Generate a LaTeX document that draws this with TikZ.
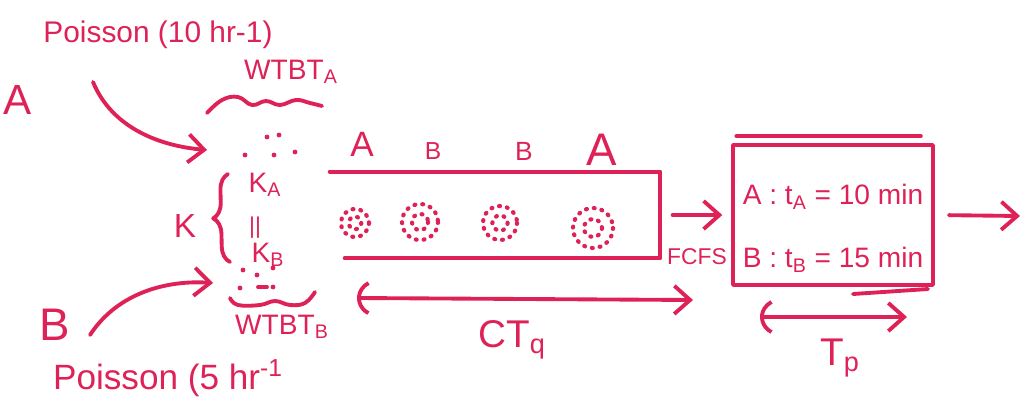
\documentclass[tikz,border=0pt]{standalone}
\usepackage{fontspec}
\setmainfont{Liberation Sans}
\usetikzlibrary{arrows.meta,decorations.pathreplacing}
\definecolor{marker}{RGB}{222,34,88}
\tikzset{
  ink/.style={draw=marker, line width=2.2pt, line cap=round, line join=round},
  inktext/.style={text=marker, inner sep=0pt},
  barb/.style={-{Straight Barb[length=9pt,width=16pt]}},
  twobarb/.style={{Arc Barb[length=12pt,width=22pt,arc=120]}-{Straight Barb[length=9pt,width=16pt]}},
  blob/.style={draw=marker, line width=2.4pt, line cap=round, dash pattern=on 0.5pt off 4pt},
  sz/.style={font=\fontsize{#1}{#1}\selectfont},
}
\begin{document}
\begin{tikzpicture}[x=0.02cm, y=-0.02cm]
		%%%%% START %%%%%
		\useasboundingbox (0,0) rectangle (1025,406);
		
		% arrivals
		\node[inktext, sz=17] (poisA) at (158,35) {Poisson (10 hr-1)};
		\node[inktext, sz=24] (srcA) at (18,100) {A};
		\node[inktext, sz=20] (poisB) at (168,378) {Poisson (5 hr\textsuperscript{-1}};
		\node[inktext, sz=26] (srcB) at (55,325) {B};
		\coordinate (inA) at (93,82);
		\coordinate (inB) at (90,335);
		\coordinate (waitA) at (207,150);
		\coordinate (waitB) at (213,283);
		\draw[ink, barb] (inA) .. controls (112,128) and (160,146) .. (waitA);
		\draw[ink, barb] (inB) .. controls (118,292) and (168,280) .. (waitB);
		
		% waiting in front of the line
		\foreach \x/\y in {267/137, 279/135, 245/155, 274/155, 295/152}
			\fill[marker] (\x,\y) circle (2.4);
		\foreach \x/\y in {243/270, 257/275, 273/268, 240/288, 273/287}
			\fill[marker] (\x,\y) circle (2.4);
		\draw[ink] (258,287) -- (267,287);
		\draw[ink] plot[smooth, tension=0.7] coordinates {(207,113) (222,100) (238,97) (252,105) (266,101) (280,105) (296,100) (310,103) (322,106)};
		\draw[ink] plot[smooth, tension=0.7] coordinates {(230,298) (238,305) (260,305) (275,301) (290,305) (305,303) (315,292)};
		\node[inktext, sz=16] (wtbtA) at (291,72) {WTBT\textsubscript{A}};
		\node[inktext, sz=16] (wtbtB) at (282,327) {WTBT\textsubscript{B}};
		
		% batch size
		\draw[ink, decorate, decoration={brace, amplitude=9pt}] (230,262) -- (228,174);
		\node[inktext, sz=19] (k) at (185,226) {K};
		\node[inktext, sz=16] (kA) at (265,185) {K\textsubscript{A}};
		\node[inktext, sz=13] (kplus) at (255,228) {||};
		\node[inktext, sz=16] (kB) at (268,255) {K\textsubscript{B}};
		
		% queue
		\node[minimum width=6.6cm, minimum height=1.72cm, inner sep=0pt] (queue) at (495,215) {};
		\draw[ink] (queue.north west) -- (queue.north east) -- (queue.south east) -- ([xshift=0.3cm]queue.south west);
		\foreach \cx/\cy/\r in {355/223/14, 420/222/18, 500/223/17, 593/228/20} {
			\draw[blob] (\cx,\cy) circle (\r);
			\draw[blob] (\cx,\cy) circle (\r*0.45);
		}
		\node[inktext, sz=20] (labA1) at (362,144) {A};
		\node[inktext, sz=14] (labB1) at (433,151) {B};
		\node[inktext, sz=15] (labB2) at (524,151) {B};
		\node[inktext, sz=26] (labA2) at (602,150) {A};
		\coordinate (ctL) at (357,298);
		\coordinate (ctR) at (693,300);
		\draw[ink, twobarb] (ctL) -- (ctR);
		\node[inktext, sz=22] (ctq) at (512,340) {CT\textsubscript{q}};
		
		% process
		\node[ink, minimum width=4cm, minimum height=2.8cm] (server) at (833,215) {};
		\draw[ink] ([xshift=3pt,yshift=4pt]server.north west) -- ([xshift=-8pt,yshift=4pt]server.north east);
		\draw[ink] (853,294) -- (928,289);
		\node[inktext, sz=16] (srvA) at (833,197) {A : t\textsubscript{A} = 10 min};
		\node[inktext, sz=16] (srvB) at (833,260) {B : t\textsubscript{B} = 15 min};
		\draw[ink, barb, shorten <=7pt, shorten >=5pt] (queue.east) -- (server.west);
		\node[inktext, sz=13] (fcfs) at (697,257) {FCFS};
		\coordinate (out) at (1020,216);
		\draw[ink, barb, shorten <=8pt] (server.east) -- (out);
		\coordinate (tpL) at (760,317);
		\coordinate (tpR) at (907,317);
		\draw[ink, twobarb] (tpL) -- (tpR);
		\node[inktext, sz=22] (tp) at (840,358) {T\textsubscript{p}};
		
		%%%%% END %%%%%
	\end{tikzpicture}
\end{document}
